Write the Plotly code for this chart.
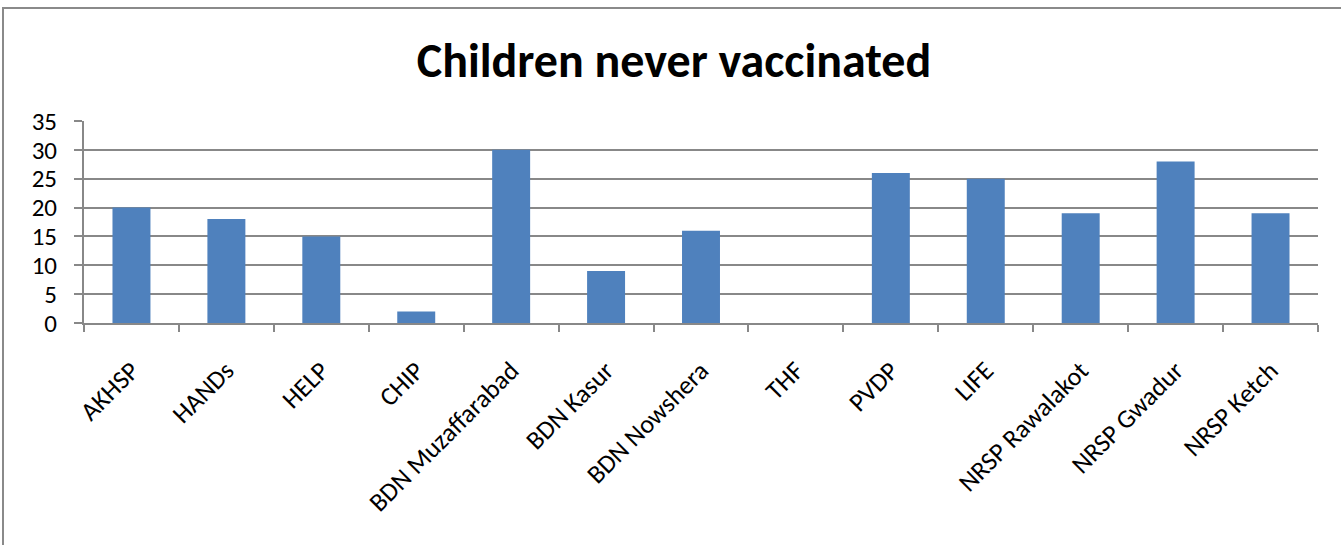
import plotly.graph_objects as go

categories = ["AKHSP", "HANDs", "HELP", "CHIP", "BDN Muzaffarabad", "BDN Kasur",
              "BDN Nowshera", "THF", "PVDP", "LIFE", "NRSP Rawalakot", "NRSP Gwadur", "NRSP Ketch"]
values = [20, 18, 15, 2, 30, 9, 16, 0, 26, 25, 19, 28, 19]
y_ticks = [0, 5, 10, 15, 20, 25, 30, 35]
title_text = "Children never vaccinated"

FONT = "Calibri, Carlito, Lato, sans-serif"
GRID = "#888888"

fig = go.Figure(go.Bar(
    x=categories, y=values,
    marker=dict(color="#4F81BD", line=dict(width=0)),
    width=0.4,
))

W, H = 1341, 545
L, R, T, B = 84, 23, 121, 222
pw, ph = W - L - R, H - T - B

fig.update_layout(
    width=W, height=H,
    margin=dict(l=L, r=R, t=T, b=B, pad=0),
    paper_bgcolor="white", plot_bgcolor="white",
    font=dict(family=FONT, size=24, color="black"),
    showlegend=False,
    title=dict(text="<b>" + title_text + "</b>", x=674 / W, xref="container", xanchor="center",
               y=1 - 60 / H, yref="container", yanchor="middle",
               font=dict(family=FONT, size=48, color="black")),
    bargap=0.6,
    shapes=[dict(type="rect", xref="paper", yref="paper",
                 x0=(3 - L) / pw, x1=(W + 20 - L) / pw,
                 y0=-(H + 20 - (T + ph)) / ph, y1=(T + ph - 8) / ph,
                 line=dict(color="#8a8a8a", width=2), layer="below")],
)

fig.update_xaxes(
    type="category", tickangle=-45, tickson="boundaries",
    ticks="outside", ticklen=7, tickcolor=GRID, tickwidth=2,
    showline=True, linecolor=GRID, linewidth=2, automargin=False,
    showgrid=False, tickfont=dict(family=FONT, size=26), ticklabelstandoff=20,
)
fig.update_yaxes(
    range=[0, 35], tickvals=y_ticks, ticks="outside", ticklen=8, tickcolor=GRID, tickwidth=2,
    showline=True, linecolor=GRID, linewidth=2, automargin=False,
    showgrid=True, gridcolor=GRID, gridwidth=2, zeroline=False,
    ticklabelstandoff=12, tickfont=dict(family=FONT, size=25),
)

fig.write_html("out.html")
